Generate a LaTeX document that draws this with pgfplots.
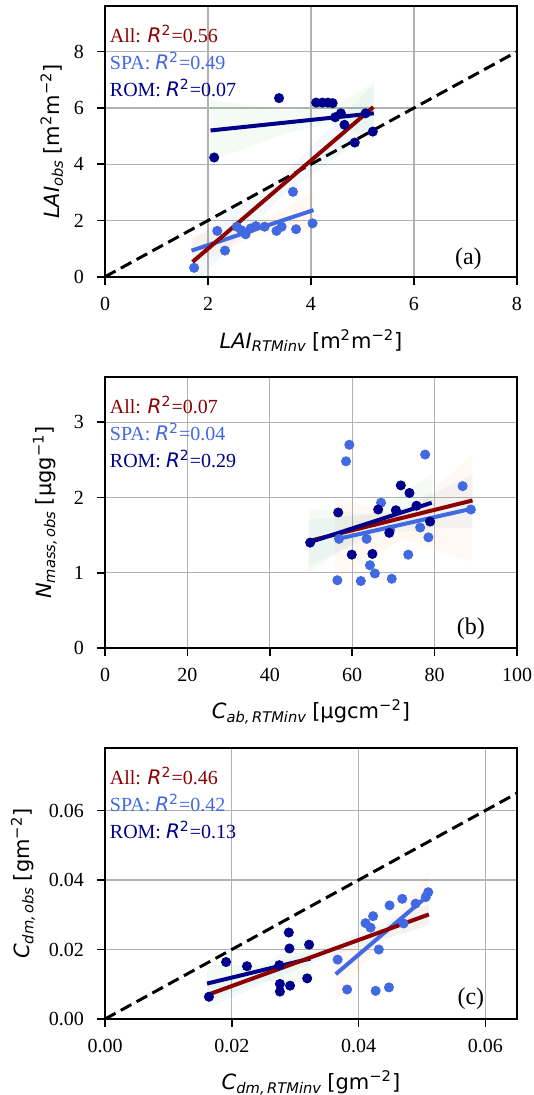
\documentclass[border=0pt]{standalone}
\usepackage{pgfplots}
\pgfplotsset{compat=1.18}
\usepackage{fontspec}
\setmainfont{Liberation Serif}
\newfontfamily\dejavu{DejaVu Sans}

\definecolor{allc}{RGB}{139,0,0}
\definecolor{spac}{RGB}{65,105,225}
\definecolor{romc}{RGB}{0,0,139}
\definecolor{bandb}{RGB}{31,119,180}
\definecolor{bando}{RGB}{255,127,14}
\definecolor{bandg}{RGB}{44,160,44}

\pgfplotsset{
  panel/.style={
    scale only axis, width=206pt, height=135.5pt,
    axis line style={line width=0.8pt},
    grid=major, major grid style={line width=0.6pt, color=black!30},
    tick align=outside, major tick length=4pt,
    tick style={line width=0.8pt, color=black},
    xtick pos=bottom, ytick pos=left,
    /pgf/number format/assume math mode=true,
    ticklabel style={font=\fontsize{10}{12}\selectfont},
    xticklabel style={yshift=-2.5pt},
    yticklabel style={xshift=-3pt},
    label style={font=\fontsize{10.5}{12}\selectfont},
    xlabel style={at={(axis description cs:0.5,-0.236)}, anchor=center},
    ylabel style={at={(axis description cs:-0.129,0.5)}, anchor=center, rotate=0},
  },
  band/.style={draw=none, fill=#1, fill opacity=0.05},
  pts/.style={only marks, mark=*, mark size=2.3pt, color=#1},
  fit/.style={no marks, line width=2pt, color=#1},
  oneone/.style={no marks, black, line width=1.5pt, dash pattern=on 6pt off 3pt},
}

\newcommand{\rtxt}[3]{\textcolor{#1}{#2: {\dejavu\itshape R}\textsuperscript{\dejavu 2}=#3}}
\newcommand{\annot}[3]{%
  \node[anchor=west, inner sep=0pt, font=\fontsize{10}{12}\selectfont] at (rel axis cs:0.011,0.897) {\rtxt{allc}{All}{#1}};
  \node[anchor=west, inner sep=0pt, font=\fontsize{10}{12}\selectfont] at (rel axis cs:0.011,0.797) {\rtxt{spac}{SPA}{#2}};
  \node[anchor=west, inner sep=0pt, font=\fontsize{10}{12}\selectfont] at (rel axis cs:0.011,0.697) {\rtxt{romc}{ROM}{#3}};
}

\begin{document}
\begin{tikzpicture}
\path[use as bounding box] (0pt,0pt) rectangle (267pt,-547.5pt);

% ---------------- (a) LAI
\begin{axis}[panel, at={(52.5pt,-138.4pt)}, anchor=south west,
  xmin=0, xmax=8, ymin=0, ymax=9.63,
  xtick={0,2,4,6,8}, ytick={0,2,4,6,8},
  xlabel={{\dejavu\itshape LAI\textsubscript{RTMinv}} {\dejavu [m\textsuperscript{2}m\textsuperscript{−2}]}},
  ylabel={{\dejavu\itshape LAI\textsubscript{obs}} {\dejavu [m\textsuperscript{2}m\textsuperscript{−2}]}},
]
\addplot[band=bandb] coordinates {(1.70,1.3) (3.4,3.5) (5.21,6.8) (5.21,5.2) (3.4,2.8) (1.70,-0.3)} --cycle;
\addplot[band=bando] coordinates {(1.68,1.45) (2.9,1.85) (4.05,3.0) (4.05,1.75) (2.9,1.4) (1.68,0.4)} --cycle;
\addplot[band=bandg] coordinates {(2.05,6.3) (3.5,5.9) (4.5,6.1) (5.22,6.9) (5.22,4.8) (4.5,5.5) (3.5,5.1) (2.05,4.1)} --cycle;
\addplot[oneone] coordinates {(0,0) (8,8)};
\addplot[pts=spac] coordinates {
 (1.73,0.32) (2.18,1.63) (2.33,0.93) (2.56,1.78) (2.73,1.51) (2.83,1.72)
 (2.93,1.80) (3.33,1.63) (3.43,1.78) (3.71,1.69) (3.65,3.02) (4.03,1.90)
 (2.65,1.65) (3.1,1.78)};
\addplot[pts=romc] coordinates {
 (3.38,6.35) (2.12,4.24) (4.10,6.19) (4.22,6.19) (4.33,6.19) (4.42,6.17)
 (4.47,5.67) (4.58,5.81) (4.65,5.40) (4.85,4.77) (5.06,5.81) (5.20,5.16)};
\addplot[fit=spac] coordinates {(1.68,0.93) (4.05,2.37)};
\addplot[fit=romc] coordinates {(2.05,5.20) (5.22,5.81)};
\addplot[fit=allc] coordinates {(1.70,0.53) (5.21,6.03)};
\annot{0.56}{0.49}{0.07}
\node[font=\fontsize{12}{14}\selectfont] at (rel axis cs:0.882,0.068) {(a)};
\end{axis}

% ---------------- (b) Nmass
\begin{axis}[panel, at={(52.5pt,-324pt)}, anchor=south west,
  xmin=0, xmax=100, ymin=0, ymax=3.6,
  xtick={0,20,40,60,80,100}, ytick={0,1,2,3},
  ylabel style={at={(axis description cs:-0.146,0.5)}},
  xlabel={{\dejavu\itshape C\textsubscript{ab,\,RTMinv}} {\dejavu [µgcm\textsuperscript{−2}]}},
  ylabel={{\dejavu\itshape N\textsubscript{mass,\,obs}} {\dejavu [µgg\textsuperscript{−1}]}},
]
\addplot[band=bandg] coordinates {(49.4,1.85) (64,1.78) (79.3,2.3) (79.3,1.55) (64,1.55) (49.4,1.0)} --cycle;
\addplot[band=bando] coordinates {(55.8,2.0) (72,1.75) (89,2.55) (89,1.15) (72,1.45) (55.8,0.9)} --cycle;
\addplot[band=bandb] coordinates {(49.4,1.7) (70,1.8) (89.2,2.3) (89.2,1.6) (70,1.6) (49.4,1.1)} --cycle;
\addplot[pts=spac] coordinates {
 (59.3,2.70) (58.5,2.48) (77.7,2.57) (86.8,2.15) (67.0,1.93) (88.8,1.84)
 (78.5,1.47) (63.5,1.45) (73.6,1.24) (64.3,1.10) (65.5,0.99) (56.4,0.90)
 (62.1,0.89) (69.6,0.92) (69.2,1.57) (56.8,1.45) (76.5,1.60)};
\addplot[pts=romc] coordinates {
 (49.8,1.40) (56.6,1.80) (59.9,1.24) (64.9,1.25) (66.3,1.84) (69.0,1.53)
 (70.6,1.83) (71.8,2.16) (73.9,2.06) (75.6,1.89) (78.9,1.68)};
\addplot[fit=spac] coordinates {(55.8,1.44) (89.0,1.85)};
\addplot[fit=allc] coordinates {(49.4,1.42) (89.2,1.96)};
\addplot[fit=romc] coordinates {(49.4,1.40) (79.3,1.93)};
\annot{0.07}{0.04}{0.29}
\node[font=\fontsize{12}{14}\selectfont] at (rel axis cs:0.888,0.07) {(b)};
\end{axis}

% ---------------- (c) Cdm
\begin{axis}[panel, at={(52.5pt,-509.5pt)}, anchor=south west,
  xmin=0, xmax=0.065, ymin=0, ymax=0.078,
  xtick={0,0.02,0.04,0.06}, ytick={0,0.02,0.04,0.06},
  scaled ticks=false,
  ticklabel style={/pgf/number format/fixed, /pgf/number format/fixed zerofill, /pgf/number format/precision=2},
  ylabel style={at={(axis description cs:-0.199,0.5)}},
  xlabel={{\dejavu\itshape C\textsubscript{dm,\,RTMinv}} {\dejavu [gm\textsuperscript{−2}]}},
  ylabel={{\dejavu\itshape C\textsubscript{dm,\,obs}} {\dejavu [gm\textsuperscript{−2}]}},
]
\addplot[band=bandg] coordinates {(0.0161,0.0155) (0.025,0.0155) (0.0324,0.024) (0.0324,0.0105) (0.025,0.011) (0.0161,0.005)} --cycle;
\addplot[band=bando] coordinates {(0.0364,0.020) (0.044,0.026) (0.051,0.042) (0.051,0.027) (0.044,0.023) (0.0364,0.005)} --cycle;
\addplot[band=bandb] coordinates {(0.0161,0.010) (0.033,0.0195) (0.0511,0.033) (0.0511,0.027) (0.033,0.0165) (0.0161,0.003)} --cycle;
\addplot[oneone] coordinates {(0,0) (0.065,0.065)};
\addplot[pts=spac] coordinates {
 (0.0367,0.0171) (0.0382,0.0085) (0.0427,0.0081) (0.0448,0.0091) (0.0432,0.0200)
 (0.0411,0.0276) (0.0423,0.0296) (0.0419,0.0263) (0.0449,0.0327) (0.0469,0.0346)
 (0.0490,0.0332) (0.0506,0.0351) (0.0510,0.0365) (0.0471,0.0275)};
\addplot[pts=romc] coordinates {
 (0.0164,0.0064) (0.0191,0.0164) (0.0224,0.0152) (0.0275,0.0155) (0.0290,0.0249)
 (0.0291,0.0203) (0.0322,0.0214) (0.0276,0.0101) (0.0276,0.0079) (0.0292,0.0096)
 (0.0319,0.0117)};
\addplot[fit=spac] coordinates {(0.0364,0.0129) (0.0510,0.0356)};
\addplot[fit=romc] coordinates {(0.0161,0.0102) (0.0324,0.0174)};
\addplot[fit=allc] coordinates {(0.0161,0.0069) (0.0511,0.0301)};
\annot{0.46}{0.42}{0.13}
\node[font=\fontsize{12}{14}\selectfont] at (rel axis cs:0.888,0.074) {(c)};
\end{axis}
\end{tikzpicture}
\end{document}
